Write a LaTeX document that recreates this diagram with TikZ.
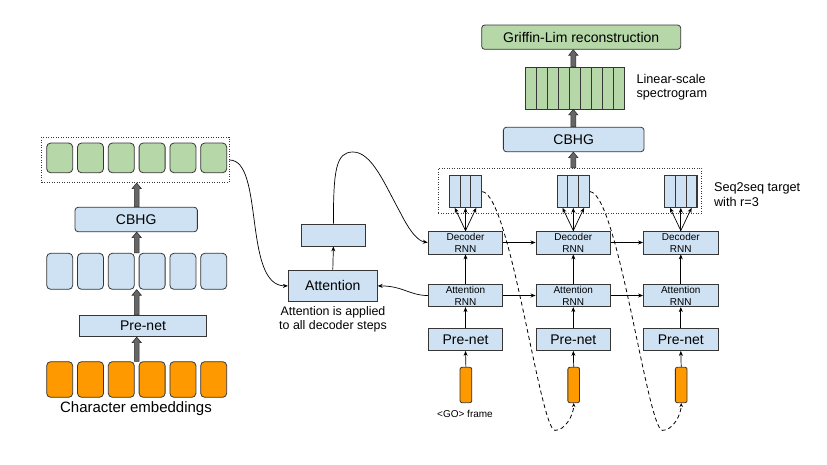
\documentclass[tikz,border=0pt]{standalone}
\usepackage{fontspec}
\setmainfont{Liberation Sans}
\usetikzlibrary{arrows.meta,calc}
\definecolor{bluefill}{HTML}{CFE2F3}
\definecolor{greenfill}{HTML}{B6D7A8}
\definecolor{orangefill}{HTML}{FF9900}
\definecolor{edgec}{HTML}{363636}
\definecolor{fatfill}{HTML}{666666}
\definecolor{fatedge}{HTML}{2E2E2E}
\newcommand\tacoarrow[2]{%
  \path[fill=fatfill, draw=fatedge, line width=0.6pt, line join=miter]
    let \p1=(#1), \p2=(#2) in
    (\x1-2.4pt,\y1) -- (\x1-2.4pt,\y2-5.5pt) -- (\x1-4.6pt,\y2-5.5pt) -- (\x1,\y2)
    -- (\x1+4.6pt,\y2-5.5pt) -- (\x1+2.4pt,\y2-5.5pt) -- (\x1+2.4pt,\y1) -- cycle;}
\tikzset{
  lcell/.style={draw=edgec, line width=0.8pt, rounded corners=4pt, minimum width=26pt, inner sep=0pt},
  bbox/.style={draw=edgec, line width=0.8pt, fill=bluefill, inner sep=0pt},
  gbox/.style={draw=edgec, line width=0.8pt, fill=greenfill, inner sep=0pt},
  dotbox/.style={draw=edgec, line width=0.8pt, dash pattern=on 1pt off 1.5pt, inner sep=0pt},
  bigtxt/.style={font=\fontsize{14}{16.8}\selectfont},
  smalltxt/.style={font=\fontsize{10}{12}\selectfont, align=center},
  conn/.style={draw=black, line width=0.7pt, -{Stealth[length=5pt,width=4pt]}},
  dcurve/.style={draw=black, line width=0.8pt, dash pattern=on 4pt off 3pt, -{Stealth[length=4pt,width=3.5pt]}},
  tbar/.style={draw=edgec, line width=1.1pt, fill=bluefill, minimum width=10.8pt, minimum height=31.3pt, inner sep=0pt},
  sbar/.style={draw=edgec, line width=0.8pt, fill=greenfill, minimum width=11pt, minimum height=41.7pt, inner sep=0pt},
  colbox/.style={bbox, minimum width=74.7pt},
}
\begin{document}
\begin{tikzpicture}[x=1pt,y=-1pt]
\fill[white] (0,0) rectangle (827,465);
\useasboundingbox (0,0) rectangle (827,465);
\coordinate (axL) at (136.7,0);
\coordinate (axT) at (573.3,0);

% ---------- encoder ----------
\node[dotbox, minimum width=187.3pt, minimum height=45.4pt] (dL) at (135.4,160) {};
\foreach \i/\x in {1/59.7,2/90.5,3/121.3,4/152.1,5/182.9,6/213.7} {
  \node[lcell, fill=greenfill, minimum height=29.7pt] (g\i) at (\x,157.9) {};
  \node[lcell, fill=bluefill, minimum height=36pt] (b\i) at (\x,271.3) {};
  \node[lcell, fill=orangefill, minimum height=35.6pt] (o\i) at (\x,379.5) {};
}
\node[bbox, bigtxt, rounded corners=3pt, minimum width=122.3pt, minimum height=24.4pt] (cbL) at (136.2,219.5) {CBHG};
\node[bbox, bigtxt, minimum width=127.4pt, minimum height=21.7pt] (pnL) at (143,325.9) {Pre-net};
\node[font=\fontsize{15}{18}\selectfont] (ce) at (136,409) {Character embeddings};

\tacoarrow{o4.north -| axL}{pnL.south -| axL}
\tacoarrow{pnL.north -| axL}{b4.south -| axL}
\tacoarrow{b4.north -| axL}{cbL.south -| axL}
\tacoarrow{cbL.north -| axL}{dL.south -| axL}

% ---------- attention ----------
\node[bbox, bigtxt, minimum width=89pt, minimum height=31.7pt] (att) at (332.8,285.9) {Attention};
\node[bbox, minimum width=63.3pt, minimum height=22pt] (ctx) at (333.4,235) {};
\node[font=\fontsize{12.4}{14.4}\selectfont, align=center] (note) at (333,319.5) {Attention is applied\\to all decoder steps};
\draw[conn] (att.north) -- (ctx.south);

% ---------- decoder ----------
\node[dotbox, minimum width=263.4pt, minimum height=45pt] (dT) at (570,190.8) {};
\foreach \c/\x in {1/465.5,2/573.3,3/680.8} {
  \node[colbox, smalltxt, minimum height=23pt] (dec\c) at (\x,242.5) {Decoder\\RNN};
  \node[colbox, smalltxt, minimum height=22.4pt] (arn\c) at (\x,295.5) {Attention\\RNN};
  \node[colbox, bigtxt, minimum height=22.2pt] (pn\c) at (\x,339.4) {Pre-net};
  \node[draw=edgec, line width=0.8pt, fill=orangefill, rounded corners=2pt, minimum width=11.7pt, minimum height=35.4pt, inner sep=0pt] (fr\c) at (\x+0.4,385) {};
  \node[tbar] (t\c a) at (\x-10.8,191.6) {};
  \node[tbar] (t\c b) at (\x,191.6) {};
  \node[tbar] (t\c c) at (\x+10.8,191.6) {};
  \draw[conn] (fr\c.north) -- (pn\c.south);
  \draw[conn] (pn\c.north) -- (arn\c.south);
  \draw[conn] (arn\c.north) -- (dec\c.south);
  \foreach \s in {a,b,c} \draw[conn] (dec\c.north) -- (t\c\s.south);
}
\draw[conn] (dec1.east) -- (dec2.west);
\draw[conn] (dec2.east) -- (dec3.west);
\draw[conn] (arn1.east) -- (arn2.west);
\draw[conn] (arn2.east) -- (arn3.west);
\node[font=\fontsize{10}{12}\selectfont] (go) at (465,413.5) {<GO> frame};
\node[font=\fontsize{12.7}{15.6}\selectfont, anchor=west, align=left] (seqlab) at (710.5,194.5) {Seq2seq target\\with r=3};

% ---------- post-net ----------
\node[bbox, bigtxt, rounded corners=3pt, minimum width=140.7pt, minimum height=24.4pt] (cbT) at (573.7,139.5) {CBHG};
\foreach \i in {1,...,9} {
  \node[sbar] (sp\i) at ({530.5+11*(\i-1)},88.2) {};
}
\node[gbox, bigtxt, rounded corners=3pt, minimum width=199pt, minimum height=24.3pt] (gl) at (581.2,37.2) {Griffin-Lim reconstruction};
\node[font=\fontsize{12.7}{14}\selectfont, anchor=west, align=left] (linlab) at (633,87) {Linear-scale\\spectrogram};
\tacoarrow{dT.north -| axT}{cbT.south -| axT}
\tacoarrow{cbT.north -| axT}{sp5.south -| axT}
\tacoarrow{sp5.north -| axT}{gl.south -| axT}

% ---------- curves ----------
\draw[conn] (dL.east) .. controls +(35,0) and +(-45,0) .. (att.west);
\draw[conn] (ctx.north) .. controls +(0,-54) and (336,152) .. (353,152)
   .. controls (372,152) and (385,185) .. (400,212)
   .. controls (410,232) and (418,241) .. (dec1.west);
\draw[conn] (arn1.west) .. controls +(-18,0) and +(25,0) .. (att.east);
\draw[dcurve] (t1c.east) .. controls +(28,3) and +(-15,0) .. ($(fr2.south)+(-18.7,27.3)$)
   .. controls +(10,0) and +(0,12) .. (fr2.south);
\draw[dcurve] (t2c.east) .. controls +(28,3) and +(-15,0) .. ($(fr3.south)+(-18.7,27.3)$)
   .. controls +(10,0) and +(0,12) .. (fr3.south);
\end{tikzpicture}
\end{document}
